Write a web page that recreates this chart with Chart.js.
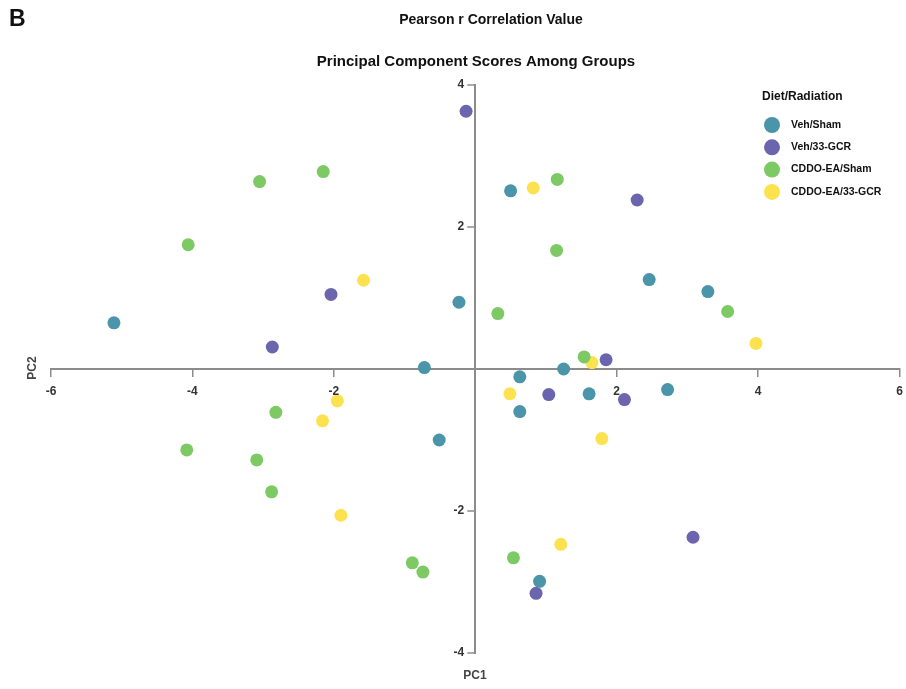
<!DOCTYPE html>
<html>
<head>
<meta charset="utf-8">
<script src="https://cdn.jsdelivr.net/npm/chart.js@4.4.1/dist/chart.umd.min.js"></script>
<style>
  html, body { margin: 0; padding: 0; background: #fff; }
  #wrap { width: 906px; height: 689px; position: relative; }
</style>
</head>
<body>
<div id="wrap"><canvas id="pcaChart"></canvas></div>
<script>
// PCA scores
const groupNames = ['Veh/Sham', 'Veh/33-GCR', 'CDDO-EA/Sham', 'CDDO-EA/33-GCR'];
const groupColors = ['#4a95a9', '#6b65ad', '#7dca64', '#fde24f'];

const vehShamPC1 = [-5.11, -0.23, -0.72, -0.51, 0.50, 0.63, 0.63, 1.25, 1.61, 2.46, 3.29, 2.72, 0.91];
const vehShamPC2 = [0.65, 0.94, 0.02, -1.00, 2.51, -0.11, -0.60, 0.00, -0.35, 1.26, 1.09, -0.29, -2.99];

const vehGcrPC1 = [-0.13, -2.87, -2.04, 2.29, 1.85, 1.04, 2.11, 3.08, 0.86];
const vehGcrPC2 = [3.63, 0.31, 1.05, 2.38, 0.13, -0.36, -0.43, -2.37, -3.16];

const cddoShamPC1 = [-3.05, -2.15, -4.06, -2.82, -4.08, -3.09, -2.88, -0.89, -0.74, 0.32, 1.16, 1.15, 1.54, 3.57, 0.54];
const cddoShamPC2 = [2.64, 2.78, 1.75, -0.61, -1.14, -1.28, -1.73, -2.73, -2.86, 0.78, 2.67, 1.67, 0.17, 0.81, -2.66];

const cddoGcrPC1 = [-1.58, -1.95, -2.16, -1.90, 0.82, 0.49, 1.65, 1.79, 1.21, 3.97];
const cddoGcrPC2 = [1.25, -0.45, -0.73, -2.06, 2.55, -0.35, 0.09, -0.98, -2.47, 0.36];

const xTicks = [-6, -4, -2, 2, 4, 6];
const yTicks = [-4, -2, 2, 4];

const pc1Sets = [vehShamPC1, vehGcrPC1, cddoShamPC1, cddoGcrPC1];
const pc2Sets = [vehShamPC2, vehGcrPC2, cddoShamPC2, cddoGcrPC2];

const FONT = '"Liberation Sans", Arial, sans-serif';
const AXIS_GREY = '#8c8c8c';

const datasets = groupNames.map((name, i) => ({
    label: name,
    data: pc1Sets[i].map((x, j) => ({ x: x, y: pc2Sets[i][j] })),
    backgroundColor: groupColors[i],
    borderWidth: 0,
    pointRadius: 6.5,
    pointHoverRadius: 6.5
}));

// titles, axis names, tick labels around the centred axes, legend box
const decorations = {
    id: 'decorations',
    afterDraw(chart) {
        const ctx = chart.ctx;
        const xs = chart.scales.x, ys = chart.scales.y;
        const ax = xs.getPixelForValue(0);
        const ay = ys.getPixelForValue(0);
        ctx.save();
        ctx.fillStyle = '#111';
        ctx.textBaseline = 'middle';

        ctx.textAlign = 'left';
        ctx.font = 'bold 23px ' + FONT;
        ctx.fillText('B', 9, 20);

        ctx.textAlign = 'center';
        ctx.font = 'bold 14px ' + FONT;
        ctx.fillText('Pearson r Correlation Value', 491, 20, 184);
        ctx.font = 'bold 15px ' + FONT;
        ctx.fillText('Principal Component Scores Among Groups', 476, 62, 380);

        // y ticks: marks and labels to the left of the vertical axis
        ctx.strokeStyle = AXIS_GREY;
        ctx.lineWidth = 1.5;
        ctx.fillStyle = '#333';
        ctx.font = 'bold 12px ' + FONT;
        ctx.textAlign = 'right';
        yTicks.forEach(v => {
            const py = ys.getPixelForValue(v);
            ctx.beginPath();
            ctx.moveTo(ax - 8, py);
            ctx.lineTo(ax, py);
            ctx.stroke();
            ctx.fillText(String(v), ax - 11, py);
        });

        // x tick labels below the horizontal axis
        ctx.textAlign = 'center';
        xTicks.forEach(v => {
            ctx.fillText(String(v), xs.getPixelForValue(v), ay + 23);
        });

        // axis names
        ctx.fillStyle = '#444';
        ctx.fillText('PC1', 475, 676);
        ctx.save();
        ctx.translate(33, 368);
        ctx.rotate(-Math.PI / 2);
        ctx.fillText('PC2', 0, 0);
        ctx.restore();

        // legend
        ctx.textAlign = 'left';
        ctx.fillStyle = '#111';
        ctx.font = 'bold 12px ' + FONT;
        ctx.fillText('Diet/Radiation', 762, 97, 88);
        ctx.font = 'bold 10.5px ' + FONT;
        chart.data.datasets.forEach((ds, i) => {
            const y = 125 + i * 22.3;
            ctx.beginPath();
            ctx.arc(772, y, 8, 0, Math.PI * 2);
            ctx.fillStyle = ds.backgroundColor;
            ctx.fill();
            ctx.fillStyle = '#111';
            ctx.fillText(ds.label, 791, y);
        });
        ctx.restore();
    }
};

const tickColor = c => (c.tick && c.tick.value === 0 ? 'rgba(0,0,0,0)' : AXIS_GREY);

new Chart(document.getElementById('pcaChart'), {
    type: 'scatter',
    data: { datasets: datasets },
    options: {
        responsive: true,
        maintainAspectRatio: false,
        animation: false,
        layout: {
            padding: { left: 51, right: 5, top: 85, bottom: 36 }
        },
        plugins: {
            legend: { display: false },
            title: { display: false },
            tooltip: { enabled: false }
        },
        scales: {
            x: {
                type: 'linear',
                position: { y: 0 },
                min: -6,
                max: 6,
                afterBuildTicks: scale => { scale.ticks = xTicks.concat([0]).sort((a, b) => a - b).map(v => ({ value: v })); },
                border: { display: true, color: AXIS_GREY, width: 2 },
                grid: { drawOnChartArea: false, drawTicks: true, tickLength: 7, color: tickColor, lineWidth: 1.5 },
                ticks: { display: false }
            },
            y: {
                type: 'linear',
                position: { x: 0 },
                min: -4,
                max: 4,
                border: { display: true, color: AXIS_GREY, width: 2 },
                grid: { drawOnChartArea: false, drawTicks: false },
                ticks: { display: false, stepSize: 2 }
            }
        }
    },
    plugins: [decorations]
});
</script>
</body>
</html>
